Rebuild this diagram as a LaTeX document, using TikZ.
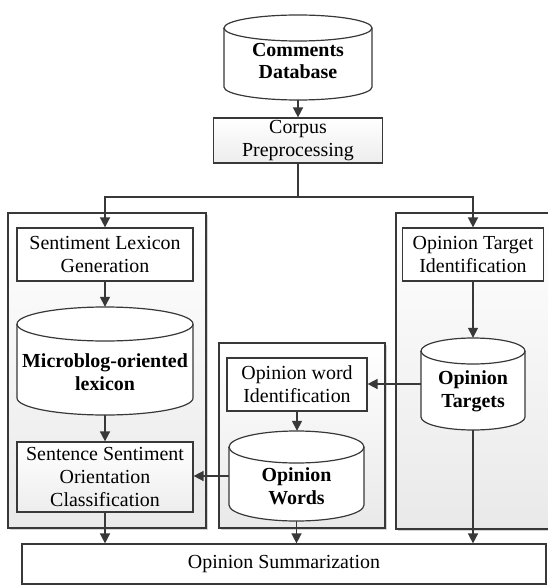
\documentclass[tikz,border=0pt]{standalone}
\usepackage{fontspec}
\setmainfont{Liberation Serif}
\usetikzlibrary{arrows.meta,shadows}
\definecolor{ln}{HTML}{383838}
\definecolor{pbot}{HTML}{E9E9E9}
\definecolor{bbot}{HTML}{EDEDED}
\begin{document}
\begin{tikzpicture}[x=1bp,y=-1bp,
  font=\fontsize{20}{23}\selectfont,
  box/.style={draw=ln, line width=1.2bp, fill=white, align=center, inner sep=0pt},
  gbox/.style={box, top color=white, bottom color=bbot},
  panel/.style={draw=ln, line width=1.2bp, top color=white, bottom color=pbot,
    drop shadow={shadow xshift=2bp, shadow yshift=-2bp, opacity=0.35, fill=gray}},
  cyl/.style={draw=ln, line width=1.2bp, fill=white},
  cylline/.style={draw=ln, line width=1.2bp},
  cylarea/.style={inner sep=0pt},
  cyltxt/.style={align=center, inner sep=0pt, font=\fontsize{20}{23}\selectfont\bfseries},
  arr/.style={draw=ln, line width=1.5bp, -{Triangle[length=10bp,width=10bp]}},
  conn/.style={draw=ln, line width=1.5bp}]
\useasboundingbox (0,0) rectangle (548,586);

% panels
\path[panel] (8,213) rectangle (206,528);
\path[panel] (219,343) rectangle (385,528);
\path[panel] (396,213) rectangle (556,529);

% Comments Database cylinder
\draw[cyl] (224,28) -- (224,87) arc[start angle=180,end angle=360,x radius=74bp,y radius=13bp]
  -- (372,28) arc[start angle=0,end angle=180,x radius=74bp,y radius=13bp] -- cycle;
\draw[cylline] (224,28) arc[start angle=180,end angle=360,x radius=74bp,y radius=13bp];
\node[cylarea, minimum width=148bp, minimum height=85bp] (db) at (298,57.5) {};
\node[cyltxt] (dbt) at (298,61) {Comments\\Database};

% Microblog-oriented lexicon cylinder
\draw[cyl] (17,324) -- (17,398) arc[start angle=180,end angle=360,x radius=88bp,y radius=17bp]
  -- (193,324) arc[start angle=0,end angle=180,x radius=88bp,y radius=17bp] -- cycle;
\draw[cylline] (17,324) arc[start angle=180,end angle=360,x radius=88bp,y radius=17bp];
\node[cylarea, minimum width=176bp, minimum height=108bp] (lex) at (105,361) {};
\node[cyltxt] (lext) at (105,372) {Microblog-oriented\\lexicon};

% Opinion Targets cylinder
\draw[cyl] (421,351) -- (421,417) arc[start angle=180,end angle=360,x radius=52bp,y radius=13bp]
  -- (525,351) arc[start angle=0,end angle=180,x radius=52bp,y radius=13bp] -- cycle;
\draw[cylline] (421,351) arc[start angle=180,end angle=360,x radius=52bp,y radius=13bp];
\node[cylarea, minimum width=104bp, minimum height=92bp] (ot) at (473,384) {};
\node[cyltxt] (ott) at (473,391) {Opinion\\Targets};

% Opinion Words cylinder
\draw[cyl] (229,447) -- (229,505) arc[start angle=180,end angle=360,x radius=67.5bp,y radius=16bp]
  -- (364,447) arc[start angle=0,end angle=180,x radius=67.5bp,y radius=16bp] -- cycle;
\draw[cylline] (229,447) arc[start angle=180,end angle=360,x radius=67.5bp,y radius=16bp];
\node[cylarea, minimum width=135bp, minimum height=90bp] (ow) at (296.5,476) {};
\node[cyltxt] (owt) at (296.5,486) {Opinion\\Words};

% boxes
\node[gbox, minimum width=169bp, minimum height=45bp] (corpus) at (298,140.5) {Corpus\\Preprocessing};
\node[box, minimum width=176bp, minimum height=53bp] (slg) at (105,254.5) {Sentiment Lexicon\\Generation};
\node[gbox, minimum width=176bp, minimum height=70bp] (ssoc) at (105,477) {Sentence Sentiment\\Orientation\\Classification};
\node[box, minimum width=140bp, minimum height=53bp] (owi) at (297,384.5) {Opinion word\\Identification};
\node[box, minimum width=141bp, minimum height=53bp] (oti) at (473,254.5) {Opinion Target\\Identification};
\node[box, minimum width=524bp, minimum height=40bp] (summ) at (284,564) {Opinion Summarization};

% connectors
\coordinate (split) at (298,197);
\draw[arr] (db.south) -- (corpus.north);
\draw[conn] (corpus.south) -- (split);
\draw[arr] (split) -| (slg.north);
\draw[arr] (split) -| (oti.north);
\draw[arr] (slg.south) -- (lex.north);
\draw[arr] (lex.south) -- (ssoc.north);
\draw[arr] (ssoc.south) -- (ssoc.south |- summ.north);
\draw[arr] (oti.south) -- (ot.north);
\draw[arr] (ot.west) -- (ot.west -| owi.east);
\draw[arr] (owi.south) -- (owi.south |- ow.north);
\draw[arr] (ow.west) -- (ow.west -| ssoc.east);
\draw[arr] (ow.south) -- (ow.south |- summ.north);
\draw[arr] (ot.south) -- (ot.south |- summ.north);
\end{tikzpicture}
\end{document}
